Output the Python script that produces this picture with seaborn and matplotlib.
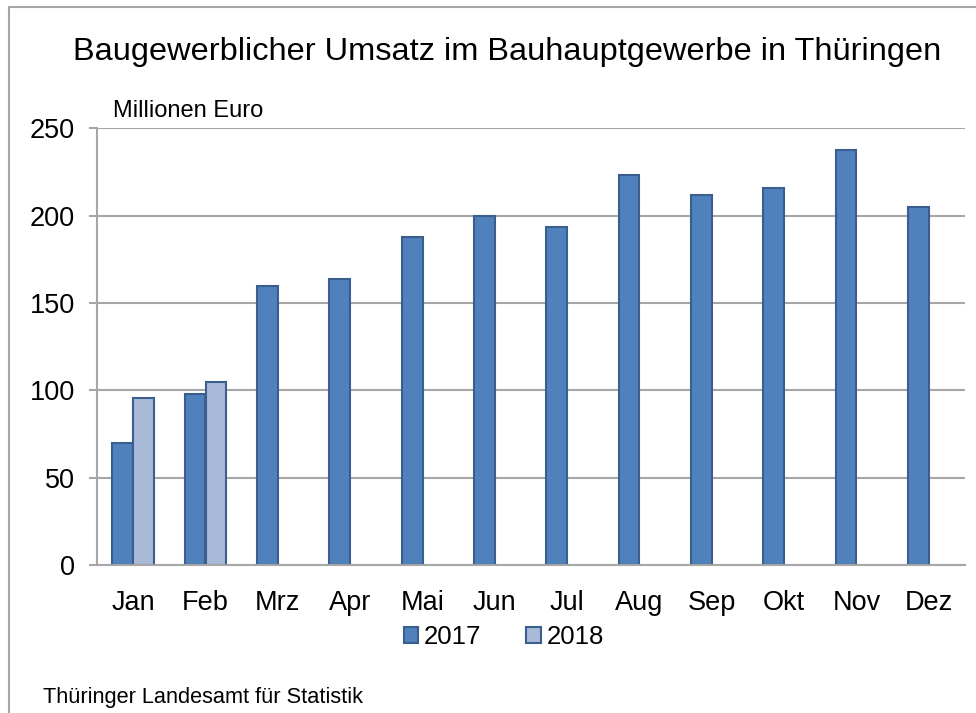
import matplotlib
matplotlib.use("Agg")
import matplotlib.pyplot as plt
import seaborn as sns
import pandas as pd
from matplotlib.lines import Line2D

months = ["Jan", "Feb", "Mrz", "Apr", "Mai", "Jun", "Jul", "Aug", "Sep", "Okt", "Nov", "Dez"]
values_2017 = [70, 98, 160, 164, 187.5, 200, 193.5, 223, 212, 216, 237.5, 205]
months_2018 = ["Jan", "Feb"]
values_2018 = [95.5, 105]
yticks = [0, 50, 100, 150, 200, 250]

df = pd.DataFrame({
    "Monat": months + months_2018,
    "Jahr": ["2017"] * len(months) + ["2018"] * len(months_2018),
    "Wert": values_2017 + values_2018,
})

sns.set_theme(style="white")
plt.rcParams["font.family"] = ["Liberation Sans", "DejaVu Sans"]
plt.rcParams["text.color"] = "black"

fig = plt.figure(figsize=(9.76, 7.13), dpi=100)
ax = fig.add_axes([97/976, 1 - 565/713, (965-97)/976, (565-128.3)/713])

palette = {"2017": "#4F81BD", "2018": "#A9B9D8"}
sns.barplot(data=df, x="Monat", y="Wert", hue="Jahr", order=months,
            hue_order=["2017", "2018"], palette=palette, width=0.58,
            edgecolor="#3A5F8E", linewidth=1.5, saturation=1, ax=ax,
            errorbar=None, legend=True)

ax.set_ylim(0, 250)
ax.set_yticks(yticks)
ax.set_xlim(-0.5, 11.5)
ax.set_xlabel("")
ax.set_ylabel("")
ax.yaxis.grid(True, color="#A6A6A6", linewidth=1.5)
ax.set_axisbelow(True)
for s in ["top", "right"]:
    ax.spines[s].set_visible(False)
for s in ["left", "bottom"]:
    ax.spines[s].set_color("#A6A6A6")
    ax.spines[s].set_linewidth(1.5)
ax.tick_params(axis="y", which="both", left=True, length=6, width=1.5, color="#A6A6A6",
               labelsize=19.5, pad=10, labelcolor="black")
ax.tick_params(axis="x", bottom=False, labelsize=19.5, pad=12, labelcolor="black")

handles, labels = ax.get_legend_handles_labels()
ax.get_legend().remove()
fig.legend(handles, labels, loc="center", bbox_to_anchor=(504/976, 1 - 637/713),
           ncol=2, frameon=False, fontsize=18.5, handlelength=0.55, handleheight=0.55,
           handletextpad=0.25, columnspacing=1.75, labelcolor="black")

fig.text(507/976, 1 - 52/713, "Baugewerblicher Umsatz im Bauhauptgewerbe in Thüringen",
         ha="center", va="center", fontsize=23.4, color="black")
fig.text(113/976, 1 - 111/713, "Millionen Euro", ha="left", va="center", fontsize=17,
         color="black")
fig.text(43/976, 1 - 697/713, "Thüringer Landesamt für Statistik", ha="left",
         va="center", fontsize=15.7, color="black")

# chart frame
fig.add_artist(Line2D([9/976, 9/976], [0, 1 - 7/713], transform=fig.transFigure,
                      color="#A6A6A6", linewidth=1.5))
fig.add_artist(Line2D([9/976, 1], [1 - 7/713, 1 - 7/713], transform=fig.transFigure,
                      color="#A6A6A6", linewidth=1.5))

fig.savefig("out.png", dpi=100)
